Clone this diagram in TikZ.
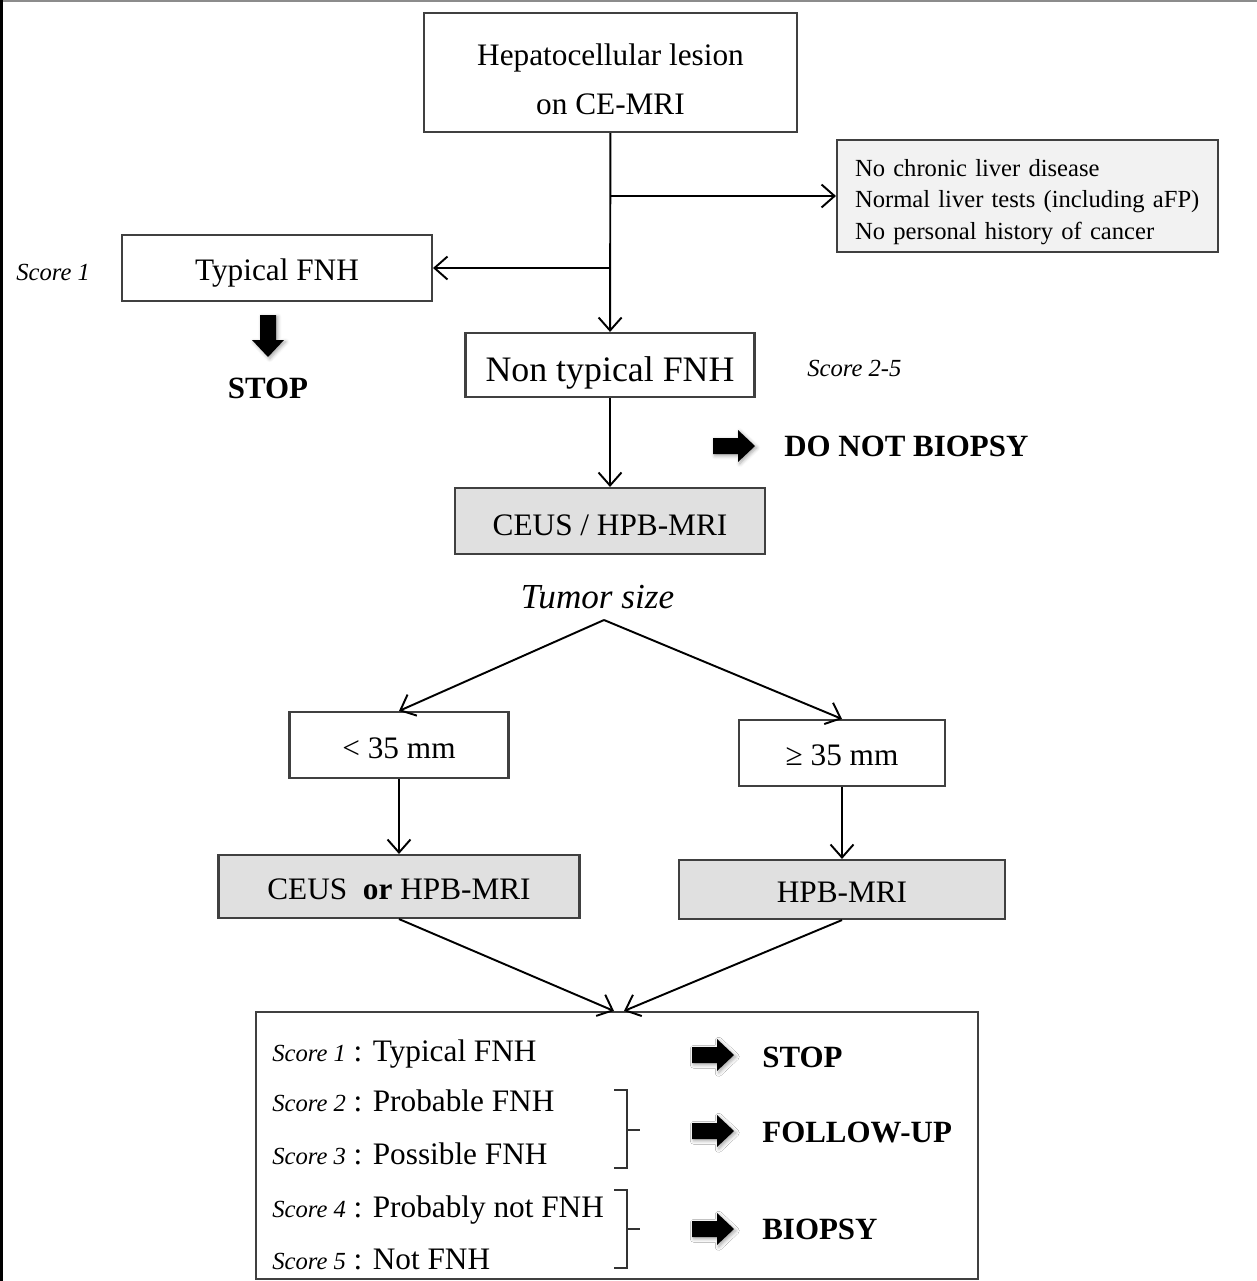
\documentclass[tikz,border=0pt]{standalone}
\usepackage{fontspec}
\setmainfont{Liberation Serif}
\usetikzlibrary{arrows.meta,calc,shadows.blur}

% font sizes used in the chart
\newcommand\boxfont{\fontsize{17.8}{27.8}\selectfont}
\newcommand\bigboxfont{\fontsize{20.4}{24}\selectfont}
\newcommand\critfont{\fontsize{14}{17.9}\selectfont}
\newcommand\scorefont{\fontsize{14}{17}\selectfont\itshape}

\tikzset{
  box/.style={draw=black!75,line width=1.2pt,fill=white,inner sep=0pt,font=\boxfont,align=center},
  shadebox/.style={box,fill=black!12},
  % pushes the text a bit below the middle of its box
  textdrop/.style={execute at begin node={\rule{0pt}{#1}}},
  link/.style={line width=1.1pt,-{Straight Barb[length=2.6mm,width=4.6mm]}},
  bracket/.style={line width=0.9pt,black!80},
  verdict/.style={font=\fontsize{17.6}{20}\selectfont\bfseries,inner sep=0pt},
  blockarrow/.pic={
    \fill[black,blur shadow={shadow xshift=1pt,shadow yshift=-1pt,shadow blur radius=2pt,shadow opacity=35}]
      (0,-8) -- (25,-8) -- (25,-16) -- (42,0) -- (25,16) -- (25,8) -- (0,8) -- cycle;
  }
}

\begin{document}
\begin{tikzpicture}[x=0.02cm,y=-0.02cm]
  \useasboundingbox (0,0) rectangle (1257,1281);
  % frame edges
  \draw[black!45,line width=1.5pt] (0,0.5) -- (1257,0.5);
  \draw[black,line width=1.8pt] (1.5,0) -- (1.5,1281);

  % first step
  \node[box,minimum width=7.46cm,minimum height=2.38cm] (lesion) at (610.5,72.5) {\rule{0pt}{20pt}Hepatocellular lesion\\on CE-MRI};
  \node[box,textdrop=16.4pt,fill=black!5,font=\critfont,align=left,text width=6.9cm,inner xsep=0.36cm,minimum height=2.24cm] (criteria) at (1027.5,196)
    {No chronic liver disease\\Normal liver tests (including aFP)\\No personal history of cancer};
  \node[box,textdrop=17.8pt,minimum width=6.2cm,minimum height=1.32cm] (typical) at (277,268) {Typical FNH};
  \node[box,textdrop=23pt,font=\bigboxfont,minimum width=5.78cm,minimum height=1.28cm] (nontyp) at (610,365) {Non typical FNH};
  \node[font=\scorefont,anchor=base west,inner sep=0pt] (score1) at (16,280) {Score 1};
  \node[font=\scorefont,anchor=base west,inner sep=0pt] (score25) at (807,376) {Score 2-5};

  \coordinate (crit) at (610,196);
  \coordinate (typ) at (610,268);
  \draw[link] (lesion) -- (nontyp);
  \draw[link] (crit) -- (criteria);
  \draw[link] (typ) -- (typical);

  \pic[rotate=-90] at (268,315) {blockarrow};
  \node[verdict,anchor=base] (stoptop) at (268,398) {STOP};
  \pic at (713,446) {blockarrow};
  \node[verdict,anchor=base west] (nobiopsy) at (784,456) {DO NOT BIOPSY};

  % second step
  \node[shadebox,textdrop=16.7pt,minimum width=6.2cm,minimum height=1.32cm] (cehpb) at (610,521) {CEUS / HPB-MRI};
  \draw[link] (nontyp) -- (cehpb);
  \node[font=\fontsize{20}{24}\selectfont\itshape,anchor=base,inner sep=0pt] (tsize) at (597.5,608) {Tumor size};
  \coordinate (fork) at (604,620);

  \node[box,textdrop=15.4pt,minimum width=4.38cm,minimum height=1.32cm] (small) at (399,745) {< 35 mm};
  \node[box,textdrop=14.3pt,minimum width=4.12cm,minimum height=1.32cm] (large) at (842,753) {≥ 35 mm};
  \draw[link] (fork) -- (small.north);
  \draw[link] (fork) -- (large.north);

  \node[shadebox,textdrop=15.2pt,minimum width=7.22cm,minimum height=1.26cm] (ceusor) at (399,886.5) {CEUS\ \ \textbf{or} HPB-MRI};
  \node[shadebox,textdrop=15.2pt,minimum width=6.52cm,minimum height=1.18cm] (hpb) at (842,889.5) {HPB-MRI};
  \draw[link] (small) -- (ceusor);
  \draw[link] (large) -- (hpb);

  % scores
  \node[box,minimum width=14.44cm,minimum height=5.34cm] (scores) at (617,1145.5) {};
  \draw[link] (ceusor.south) -- ($(scores.north)+(-3,0)$);
  \draw[link] (hpb.south) -- ($(scores.north)+(7,0)$);

  \foreach \n/\txt/\yb in {1/Typical FNH/1061, 2/Probable FNH/1111, 3/Possible FNH/1164, 4/Probably not FNH/1217, 5/Not FNH/1269}
    \node[anchor=base west,inner sep=0pt,font=\boxfont] (row\n) at (272,\yb) {{\scorefont Score \n} : \txt};

  \draw[bracket] (614,1090) -| (627,1130) -- (640,1130);
  \draw[bracket] (627,1130) |- (614,1168);
  \draw[bracket] (614,1190) -| (627,1229) -- (640,1229);
  \draw[bracket] (627,1229) |- (614,1268);

  \foreach \y in {1055,1131,1229}
    \pic at (692,\y) {blockarrow};
  \node[verdict,anchor=base west] (stop) at (762,1067) {STOP};
  \node[verdict,anchor=base west] (follow) at (762,1142) {FOLLOW-UP};
  \node[verdict,anchor=base west] (biopsy) at (762,1239) {BIOPSY};
\end{tikzpicture}
\end{document}
